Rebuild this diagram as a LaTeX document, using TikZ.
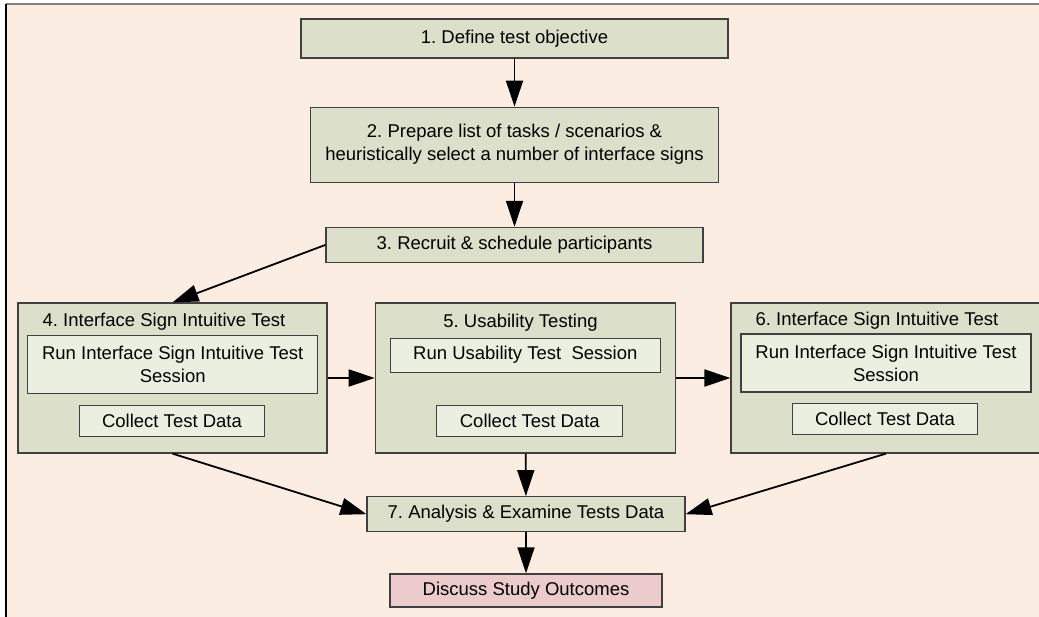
\documentclass[tikz,border=0pt]{standalone}
\usepackage{fontspec}
\setmainfont{Liberation Sans}
\usetikzlibrary{arrows.meta, positioning}
\frenchspacing

\definecolor{pagebg}{HTML}{FCEDE3}
\definecolor{stepfill}{HTML}{DCE0CA}
\definecolor{subfill}{HTML}{EBEFDF}
\definecolor{endfill}{HTML}{EBCBCB}
\definecolor{boxline}{HTML}{404040}

\begin{document}
\begin{tikzpicture}[x=1pt, y=-1pt,
        font=\fontsize{18.5}{23}\selectfont,
        stepbox/.style={draw=boxline, line width=1.2pt, fill=stepfill, inner sep=0pt, align=center},
        subbox/.style={stepbox, fill=subfill},
        endbox/.style={stepbox, fill=endfill},
        flow/.style={line width=1.8pt, -{Triangle[length=26pt, width=17pt]}}]
        \useasboundingbox (0,0) rectangle (1039,616);
        \clip (0,0) rectangle (1039,616);
        % page frame
        \fill[pagebg] (6,4) rectangle (1045,625);
        \draw[gray, line width=1.2pt] (6,4) -- (1045,4);
        \draw[black, line width=1.5pt] (6,4) -- (6,625);

        % preparation steps
        \node[stepbox, minimum width=427pt, minimum height=39pt] (step1) at (514.5,38.5) {1. Define test objective};
        \node[stepbox, minimum width=408pt, minimum height=75pt, below=48pt of step1] (step2)
            {2. Prepare list of tasks / scenarios \&\\heuristically select a number of interface signs};
        \node[stepbox, minimum width=377pt, minimum height=35pt, below=44pt of step2] (step3) {3. Recruit \& schedule participants};

        % the three test blocks
        \node[stepbox, minimum width=309pt, minimum height=150pt] (test4) at (172.5,378) {};
        \node[stepbox, minimum width=300pt, minimum height=150pt] (test5) at (525.3,378) {};
        \node[stepbox, minimum width=316pt, minimum height=150pt] (test6) at (889,378) {};

        \node[anchor=base] (title4) at (164,326) {4. Interface Sign Intuitive Test};
        \node[anchor=base] (title5) at (520.5,327) {5. Usability Testing};
        \node[anchor=base] (title6) at (877,325) {6. Interface Sign Intuitive Test};

        \node[subbox, minimum width=290pt, minimum height=58pt] (run4) at (172.7,364.5) {Run Interface Sign Intuitive Test\\Session};
        \node[subbox, minimum width=185pt, minimum height=31pt] (collect4) at (172,420.7) {Collect Test Data};
        \node[subbox, minimum width=270pt, minimum height=34pt] (run5) at (525.3,355.2) {Run Usability Test\ \ Session};
        \node[subbox, minimum width=186pt, minimum height=31pt] (collect5) at (529.8,420.7) {Collect Test Data};
        \node[subbox, minimum width=290pt, minimum height=58pt] (run6) at (886,363) {Run Interface Sign Intuitive Test\\Session};
        \node[subbox, minimum width=185pt, minimum height=31pt] (collect6) at (885,419.2) {Collect Test Data};

        % analysis and outcome
        \node[stepbox, minimum width=318pt, minimum height=35pt] (step7) at (526,514.2) {7. Analysis \& Examine Tests Data};
        \node[endbox, minimum width=272pt, minimum height=33pt, below=41pt of step7] (step8) {Discuss Study Outcomes};

        \draw[flow] (step1) -- (step2);
        \draw[flow] (step2) -- (step3);
        \draw[flow] (step3.west) -- (test4.north);
        \draw[flow] (test4) -- (test5);
        \draw[flow] (test5) -- (test6);
        \draw[flow] (test4.south) -- (step7.west);
        \draw[flow] (test5) -- (step7);
        \draw[flow] ([xshift=-3pt]test6.south) -- (step7.east);
        \draw[flow] (step7) -- (step8);
    \end{tikzpicture}
\end{document}
